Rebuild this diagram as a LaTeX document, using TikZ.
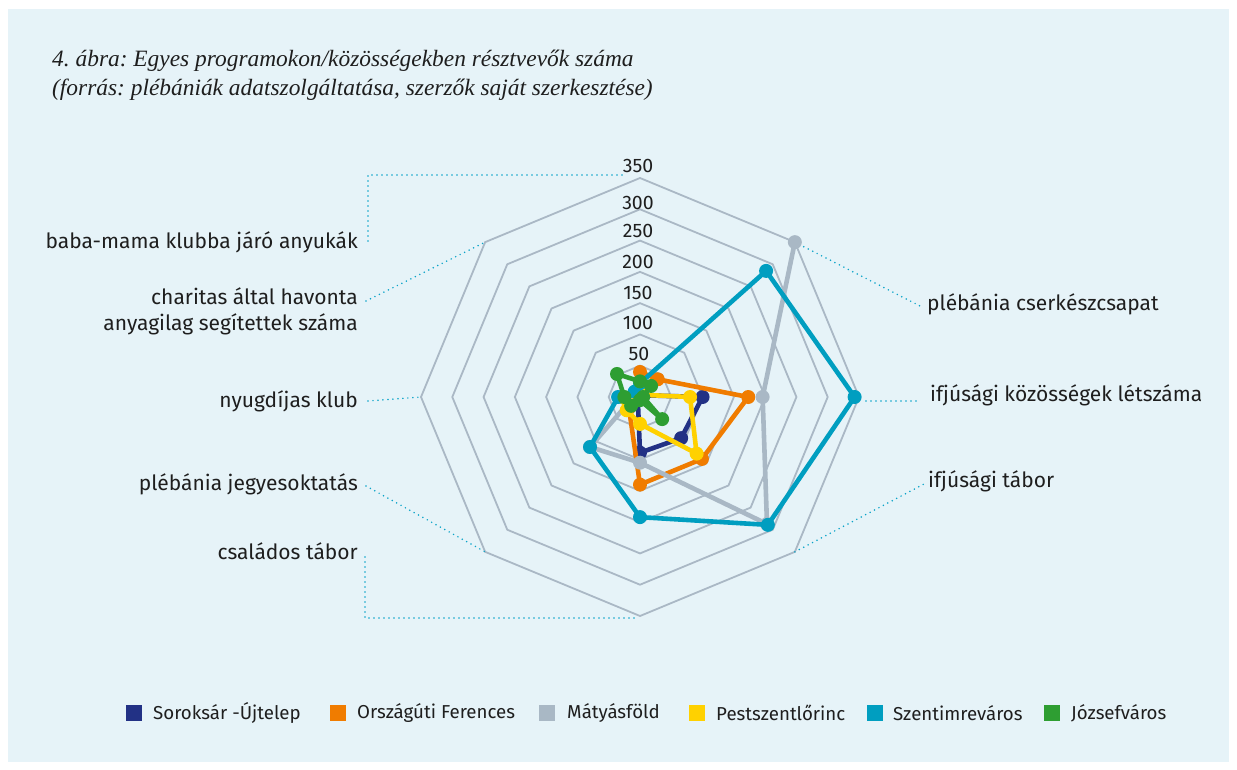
\documentclass[tikz,border=0pt]{standalone}
\usepackage{fontspec}
\setmainfont{Fira Sans}
\newfontfamily\titlefont{Liberation Serif}
\usetikzlibrary{calc}
\frenchspacing
\definecolor{bgc}{HTML}{E6F3F8}
\definecolor{gridc}{HTML}{AAB8C5}
\definecolor{cnavy}{HTML}{223185}
\definecolor{corange}{HTML}{F07C00}
\definecolor{cgray}{HTML}{A9B8C5}
\definecolor{cyellow}{HTML}{FFD100}
\definecolor{cteal}{HTML}{009EC0}
\definecolor{cgreen}{HTML}{2E9E32}
\definecolor{leadc}{HTML}{0AA3C8}
\definecolor{txt}{HTML}{1E1E1E}
\newcommand\rp[2]{({640+0.6257*(#2)*sin(45*(#1))},{397-0.6257*(#2)*cos(45*(#1))})}
\tikzset{
  gridline/.style={draw=gridc, line width=1.8pt, line join=miter},
  serie/.style={line width=4.6pt, line join=round, line cap=round},
  dotm/.style={circle, inner sep=0pt, minimum size=14pt},
  lab/.style={font=\fontsize{21}{26}\selectfont, text=txt, inner sep=0pt, align=right},
  labl/.style={font=\fontsize{21}{26}\selectfont, text=txt, inner sep=0pt, align=left},
  ringlab/.style={font=\fontsize{19.5}{20}\selectfont, text=txt, inner sep=0pt},
  lead/.style={draw=leadc, line width=1.7pt, dash pattern=on 0pt off 5pt, line cap=round},
  legsq/.style={minimum size=16pt, inner sep=0pt},
  legtxt/.style={font=\fontsize{18.7}{20}\selectfont, text=txt, inner sep=0pt, anchor=west},
  ttl/.style={anchor=west, inner sep=0pt, text=txt, font=\titlefont\itshape\fontsize{23.4}{30}\selectfont}
}
\newcommand\serieplot[3]{% color, name, values list of 8
  \foreach \v [count=\i from 0] in {#3} { \path \rp{\i}{\v} coordinate (#2-\i); }
  \draw[serie, draw=#1] (#2-0) -- (#2-1) -- (#2-2) -- (#2-3) -- (#2-4) -- (#2-5) -- (#2-6) -- (#2-7) -- cycle;
  \foreach \i in {0,...,7} { \node[dotm, fill=#1] at (#2-\i) {}; }
}
\begin{document}
\begin{tikzpicture}[x=1pt,y=-1pt]
\useasboundingbox (0,0) rectangle (1237,770);
\fill[white] (0,0) rectangle (1237,770);
\fill[bgc] (8,9) rectangle (1229,762);
% title
\node[ttl] (title1) at (52,61) {4. ábra: Egyes programokon/közösségekben résztvevők száma};
\node[ttl] (title2) at (52,90) {(forrás: plébániák adatszolgáltatása, szerzők saját szerkesztése)};
% grid
\foreach \k in {1,...,7} {
  \draw[gridline] \rp{0}{50*\k} -- \rp{1}{50*\k} -- \rp{2}{50*\k} -- \rp{3}{50*\k} -- \rp{4}{50*\k} -- \rp{5}{50*\k} -- \rp{6}{50*\k} -- \rp{7}{50*\k} -- cycle;
}
% axis labels
\node[lab, anchor=east] (a0) at (358,242) {baba-mama klubba járó anyukák};
\node[lab, anchor=east] (a7) at (358,311) {charitas által havonta\\anyagilag segítettek száma};
\node[lab, anchor=east] (a6) at (358,401) {nyugdíjas klub};
\node[lab, anchor=east] (a5) at (358,484) {plébánia jegyesoktatás};
\node[lab, anchor=east] (a4) at (358,551) {családos tábor};
\node[labl, anchor=west] (a1) at (927,304) {plébánia cserkészcsapat};
\node[labl, anchor=west] (a2) at (930,395) {ifjúsági közösségek létszáma};
\node[labl, anchor=west] (a3) at (928,481) {ifjúsági tábor};
\foreach \i in {0,...,7} { \path \rp{\i}{350} coordinate (v\i); }
\draw[lead] (368,241) |- (622,175);
\draw[lead] (366,301) -- (v7);
\draw[lead] (368,401) -- (v6);
\draw[lead] (366,486) -- (v5);
\draw[lead] (365,557) |- (638,618);
\draw[lead] (v1) -- (920,306);
\draw[lead] (866,401) -- (916,401);
\draw[lead] (v3) -- (924,484);
% ring labels
\node[ringlab] (r350) at (638,166) {350};
\node[ringlab] (r300) at (638,203) {300};
\node[ringlab] (r250) at (638,231) {250};
\node[ringlab] (r200) at (638,262) {200};
\node[ringlab] (r150) at (638,293) {150};
\node[ringlab] (r100) at (638,323) {100};
\node[ringlab] (r50) at (639,354) {50};
\node[ringlab] (r0) at (639,381) {0};
% series
\serieplot{cnavy}{sa}{4,4,100,93,89,5,3,3}
\serieplot{corange}{sb}{40,40,173,140,140,25,5,5}
% gray: open (top missing)
\foreach \v [count=\i from 1] in {350,196,287,105,113,10,10} { \path \rp{\i}{\v} coordinate (sc-\i); }
\draw[serie, draw=cgray] (sc-1) -- (sc-2) -- (sc-3) -- (sc-4) -- (sc-5) -- (sc-6) -- (sc-7);
\foreach \i in {1,...,7} { \node[dotm, fill=cgray] at (sc-\i) {}; }
\serieplot{cyellow}{sd}{8,5,80,128,43,30,30,5}
\serieplot{cteal}{se}{22,285,343,289,192,113,35,12}
\serieplot{cgreen}{sf}{25,25,5,50,5,20,25,52}
% legend
\node[legsq, fill=cnavy] (k1) at (134,713) {};
\node[legtxt] (t1) at (153,713) {Soroksár -Újtelep};
\node[legsq, fill=corange] (k2) at (338,713) {};
\node[legtxt] (t2) at (357,713) {Országúti Ferences};
\node[legsq, fill=cgray] (k3) at (547,713) {};
\node[legtxt] (t3) at (567,713) {Mátyásföld};
\node[legsq, fill=cyellow] (k4) at (697,713) {};
\node[legtxt] (t4) at (716,713) {Pestszentlőrinc};
\node[legsq, fill=cteal] (k5) at (875,713) {};
\node[legtxt] (t5) at (893,713) {Szentimreváros};
\node[legsq, fill=cgreen] (k6) at (1052,713) {};
\node[legtxt] (t6) at (1071,713) {Józsefváros};
\end{tikzpicture}
\end{document}
